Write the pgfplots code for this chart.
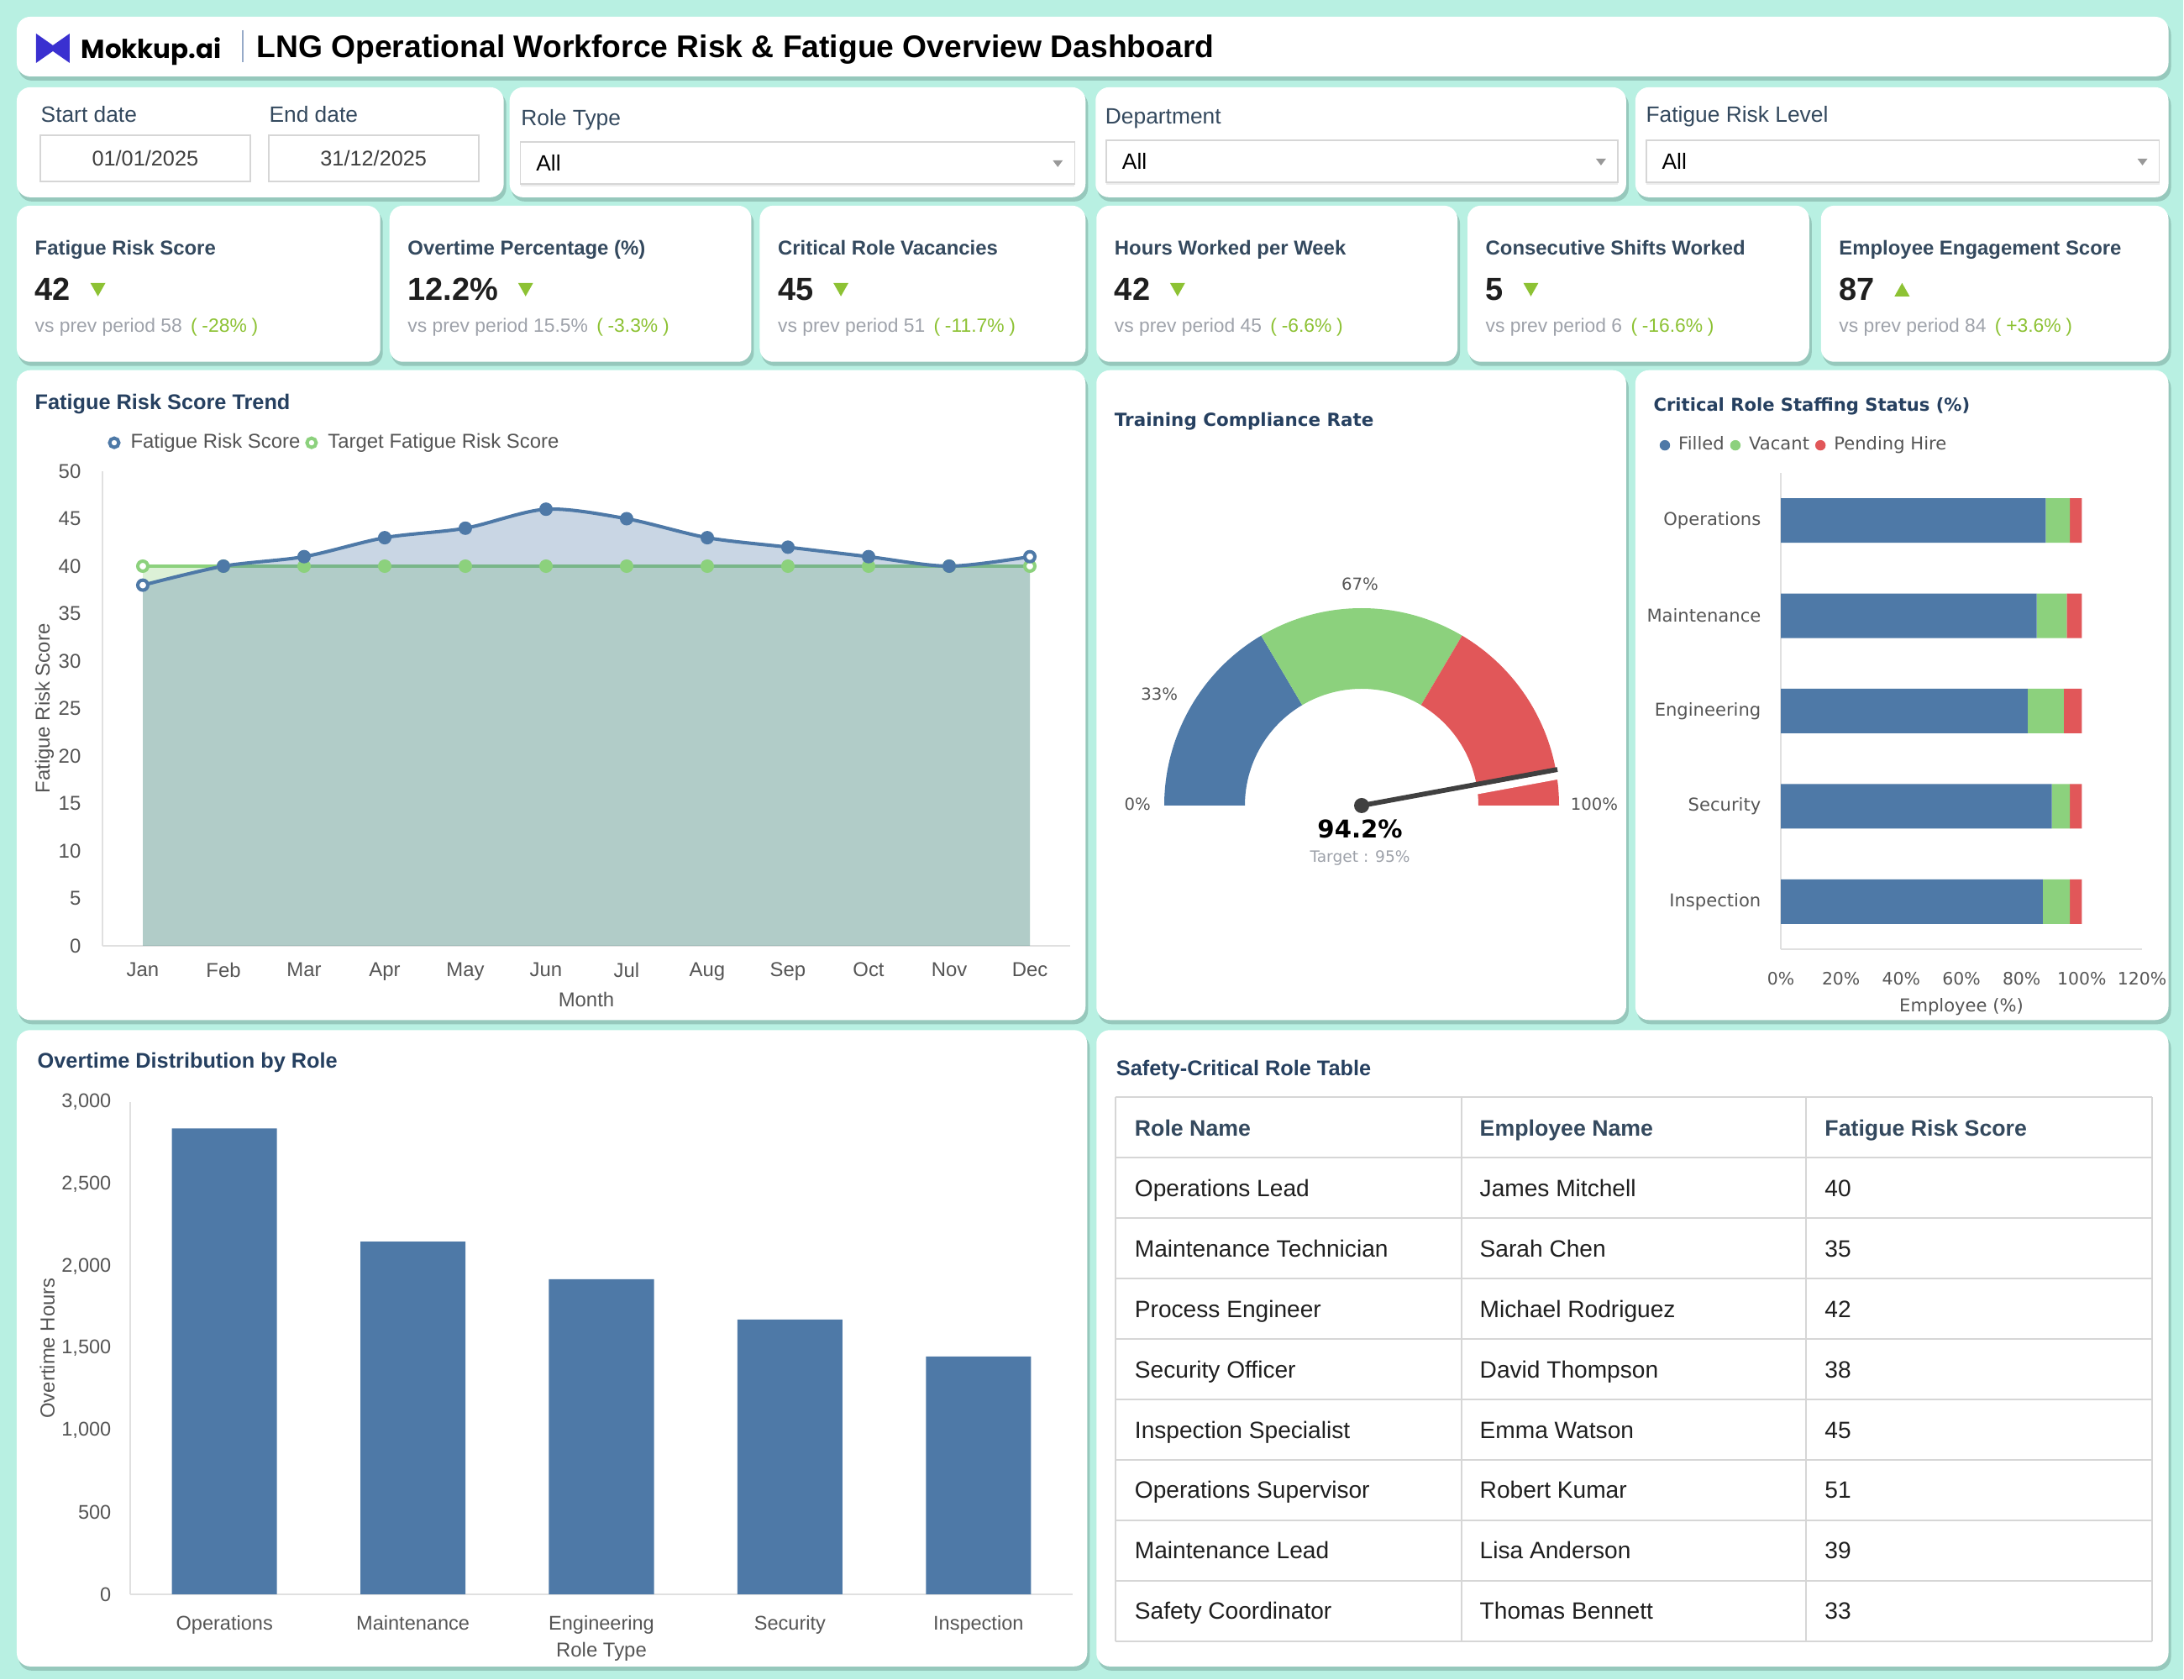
\documentclass[border=0pt]{standalone}
\usepackage{pgfplots}
\pgfplotsset{compat=1.18}
\usepackage{fontspec}
\setmainfont{Liberation Sans}
\newfontfamily\dejavu{DejaVu Sans}
\newfontfamily\poppins{Poppins}
\usetikzlibrary{calc}

\definecolor{bgmint}{RGB}{184,240,226}
\definecolor{shadowc}{RGB}{150,200,188}
\definecolor{tblue}{RGB}{78,121,167}
\definecolor{tgreen}{RGB}{140,209,125}
\definecolor{tred}{RGB}{225,87,89}
\definecolor{titleblue}{RGB}{38,64,96}
\definecolor{kpititle}{RGB}{52,73,94}
\definecolor{kpigreen}{RGB}{141,194,52}
\definecolor{subgray}{RGB}{158,162,170}
\definecolor{tickgray}{RGB}{85,85,85}
\definecolor{axgray}{RGB}{224,224,224}
\definecolor{needlec}{RGB}{64,64,64}
\definecolor{logoc}{RGB}{58,48,208}
\definecolor{bordergray}{RGB}{214,214,214}
\definecolor{divc}{RGB}{150,170,200}

\newcommand{\fs}[1]{\fontsize{#1}{#1}\selectfont}

\newcommand{\card}[4]{%
  \fill[shadowc,rounded corners=0.16cm] (#1+2,#2+5) rectangle (#3+3,#4+5);
  \fill[white,rounded corners=0.16cm] (#1,#2) rectangle (#3,#4);}

\newcommand{\kpi}[7]{%
  \card{#1}{245}{#2}{431}
  \node[lbl,font=\bfseries\fs{6.8},text=kpititle] at (#1+21,304) {#3};
  \node[lbl,font=\bfseries\fs{10.8},text=black!88] (kv) at (#1+21,358) {#4};
  \fill[kpigreen] (kv.base east) ++(23,{-13-8*#5}) -- ++(18,0) -- ++(-9,{16*#5}) -- cycle;
  \node[lbl,font=\fs{6.5},text=subgray] at (#1+21,396) {vs prev period #6\hspace{0.45em}\textcolor{kpigreen}{(\hspace{0.25em}#7\hspace{0.25em})}};}

\newcommand{\dropdown}[4]{%
  \fill[black!7] (#1,#2+2) rectangle (#3,#4+3);
  \fill[white] (#1,#2) rectangle (#3,#4);
  \draw[bordergray,line width=0.015cm] (#1,#2) rectangle (#3,#4);
  \node[lbl,font=\fs{7.5}] at (#1+18,{(#2+#4)/2+10}) {All};
  \fill[black!40] (#3-26,{(#2+#4)/2-3}) -- ++(12,0) -- ++(-6,8) -- cycle;}

\tikzset{lbl/.style={anchor=base west,inner sep=0pt},
  ttl/.style={anchor=base west,inner sep=0pt,font=\bfseries\fs{7.2},text=titleblue}}

\pgfmathsetmacro{\aOne}{180-33*1.8}
\pgfmathsetmacro{\aTwo}{180-67*1.8}
\pgfmathsetmacro{\aNeedle}{180-94.2*1.8}
\pgfmathsetmacro{\aNeedleN}{\aNeedle-90}

\begin{document}
\begin{tikzpicture}
\useasboundingbox (0,0) rectangle (26cm,20cm);
\begin{scope}[x=0.01cm,y=-0.01cm,yshift=20cm]
\fill[bgmint] (0,0) rectangle (2600,2000);
% ---------- header
\card{20}{20}{2583}{91}
\fill[logoc] (43,40) -- (63,54) -- (83,40) -- (83,75) -- (63,61) -- (43,75) -- cycle;
\node[lbl,font=\poppins\bfseries\fs{8.8}] at (96,70) {Mokkup.ai};
\draw[divc,line width=0.015cm] (289,36) -- (289,74);
\node[lbl,font=\bfseries\fs{10.6}] at (305,69) {LNG Operational Workforce Risk \& Fatigue Overview Dashboard};
% ---------- filters
\card{20}{104}{600}{235}
\node[lbl,font=\fs{7.5},text=kpititle] at (48,146) {Start date};
\node[lbl,font=\fs{7.5},text=kpititle] at (320,146) {End date};
\draw[bordergray,line width=0.02cm] (48,161) rectangle (298,216);
\draw[bordergray,line width=0.02cm] (320,161) rectangle (570,216);
\node[font=\fs{7.2},text=black!75] at (173,189) {01/01/2025};
\node[font=\fs{7.2},text=black!75] at (445,189) {31/12/2025};
\card{607}{104}{1293}{235}
\node[lbl,font=\fs{7.5},text=kpititle] at (620,150) {Role Type};
\dropdown{620}{169}{1280}{219}
\card{1305}{104}{1937}{235}
\node[lbl,font=\fs{7.5},text=kpititle] at (1316,148) {Department};
\dropdown{1318}{167}{1927}{217}
\card{1948}{104}{2583}{235}
\node[lbl,font=\fs{7.5},text=kpititle] at (1960,146) {Fatigue Risk Level};
\dropdown{1961}{167}{2572}{217}
% ---------- KPIs
\kpi{20}{453}{Fatigue Risk Score}{42}{1}{58}{-28\%}
\kpi{464}{895}{Overtime Percentage (\%)}{12.2\%}{1}{15.5\%}{-3.3\%}
\kpi{905}{1293}{Critical Role Vacancies}{45}{1}{51}{-11.7\%}
\kpi{1306}{1736}{Hours Worked per Week}{42}{1}{45}{-6.6\%}
\kpi{1748}{2155}{Consecutive Shifts Worked}{5}{1}{6}{-16.6\%}
\kpi{2169}{2583}{Employee Engagement Score}{87}{-1}{84}{+3.6\%}
% ---------- chart cards
\card{20}{441}{1293}{1215}
\node[ttl] at (41,488) {Fatigue Risk Score Trend};
\card{1306}{441}{1937}{1215}
\node[lbl,font=\dejavu\bfseries\fs{6.1},text=titleblue] at (1327,508) {Training Compliance Rate};
\card{1948}{441}{2583}{1215}
\node[lbl,font=\dejavu\bfseries\fs{6.0},text=titleblue] at (1969,490) {Critical Role Staffing Status (\%)};
\card{20}{1227}{1295}{1985}
\node[ttl] at (44,1272) {Overtime Distribution by Role};
\card{1306}{1227}{2583}{1985}
\node[ttl] at (1329,1281) {Safety-Critical Role Table};
% ---------- gauge labels
\node[font=\dejavu\fs{5.6},text=tickgray] at (1355,958) {0\%};
\node[font=\dejavu\fs{5.6},text=tickgray] at (1381,827) {33\%};
\node[font=\dejavu\fs{5.6},text=tickgray] at (1620,696) {67\%};
\node[font=\dejavu\fs{5.6},text=tickgray] at (1899,958) {100\%};
\node[font=\dejavu\bfseries\fs{8.3}] at (1620,987) {94.2\%};
\node[font=\dejavu\fs{5.3},text=subgray] at (1620,1022) {Target : 95\%};
% ---------- table
\foreach \yy in {1307,1379,1451,1523,1595,1667,1739,1811,1883,1955}
  \draw[bordergray,line width=0.02cm] (1329,\yy) -- (2563,\yy);
\foreach \xx in {1329,1741,2151,2563}
  \draw[bordergray,line width=0.02cm] (\xx,1307) -- (\xx,1955);
\node[lbl,font=\bfseries\fs{7.6},text=kpititle] at (1351,1353) {Role Name};
\node[lbl,font=\bfseries\fs{7.6},text=kpititle] at (1762,1353) {Employee Name};
\node[lbl,font=\bfseries\fs{7.6},text=kpititle] at (2173,1353) {Fatigue Risk Score};
\foreach \r/\e/\s [count=\i] in {Operations Lead/James Mitchell/40,Maintenance Technician/Sarah Chen/35,Process Engineer/Michael Rodriguez/42,Security Officer/David Thompson/38,Inspection Specialist/Emma Watson/45,Operations Supervisor/Robert Kumar/51,Maintenance Lead/Lisa Anderson/39,Safety Coordinator/Thomas Bennett/33}{
  \node[lbl,font=\fs{8},text=black!88] at (1351,{1353+72*\i}) {\r};
  \node[lbl,font=\fs{8},text=black!88] at (1762,{1353+72*\i}) {\e};
  \node[lbl,font=\fs{8},text=black!88] at (2173,{1353+72*\i}) {\s};
}
\end{scope}

% ================= Trend chart
\begin{axis}[
  at={(1.22cm,8.74cm)}, anchor=south west,
  scale only axis, width=11.52cm, height=5.65cm,
  xmin=-0.5, xmax=11.5, ymin=0, ymax=50,
  xtick={0,...,11}, xticklabels={Jan,Feb,Mar,Apr,May,Jun,Jul,Aug,Sep,Oct,Nov,Dec},
  ytick={0,5,...,50},
  axis x line*=bottom, axis y line*=left,
  axis line style={draw=axgray, line width=0.6pt, -},
  major tick length=0pt,
  /pgf/number format/assume math mode=true,
  tick label style={font=\fs{6.8}, text=tickgray, inner sep=0pt},
  yticklabel style={anchor=east, xshift=-0.25cm},
  xticklabel style={anchor=north, yshift=-0.19cm},
  every axis y label/.style={at={(axis description cs:-0.06,0.5)}, rotate=90, anchor=center, font=\fs{6.8}, text=tickgray},
  every axis x label/.style={at={(axis description cs:0.5,-0.113)}, anchor=center, font=\fs{6.8}, text=tickgray},
  ylabel={Fatigue Risk Score}, xlabel={Month},
  legend style={at={(axis description cs:0.005,1.06)}, anchor=west, draw=none, fill=none, font=\fs{6.8}, text=tickgray, legend columns=2, inner sep=0pt, nodes={inner sep=0pt}, /tikz/every odd column/.append style={column sep=0.12cm}, /tikz/every even column/.append style={column sep=0.06cm}},
  legend cell align=left,
  reverse legend,
  clip=false,
]
\addplot[forget plot, draw=none, fill=tgreen, fill opacity=0.3] coordinates {(0,40)(1,40)(2,40)(3,40)(4,40)(5,40)(6,40)(7,40)(8,40)(9,40)(10,40)(11,40)} \closedcycle;
\addplot[color=tgreen, line width=1.15pt, mark=*, mark size=1.7pt, mark indices={2,...,11}, mark options={solid, fill=tgreen},
  legend image code/.code={\draw[tgreen, line width=1.15pt, fill=white] (0.065cm,0cm) circle (0.055cm);}]
  coordinates {(0,40)(1,40)(2,40)(3,40)(4,40)(5,40)(6,40)(7,40)(8,40)(9,40)(10,40)(11,40)};
\addlegendentry{Target Fatigue Risk Score}
\addplot[forget plot, only marks, mark=*, mark size=1.7pt, mark options={draw=tgreen, fill=white, line width=1.15pt}] coordinates {(0,40)(11,40)};
\addplot[forget plot, draw=none, fill=tblue, fill opacity=0.3, smooth] coordinates {(0,38)(1,40)(2,41)(3,43)(4,44)(5,46)(6,45)(7,43)(8,42)(9,41)(10,40)(11,41)} \closedcycle;
\addplot[color=tblue, line width=1.15pt, smooth, mark=*, mark size=1.7pt, mark indices={2,...,11}, mark options={solid, fill=tblue},
  legend image code/.code={\draw[tblue, line width=1.15pt, fill=white] (0.065cm,0cm) circle (0.055cm);}]
  coordinates {(0,38)(1,40)(2,41)(3,43)(4,44)(5,46)(6,45)(7,43)(8,42)(9,41)(10,40)(11,41)};
\addlegendentry{Fatigue Risk Score}
\addplot[forget plot, only marks, mark=*, mark size=1.7pt, mark options={draw=tblue, fill=white, line width=1.15pt}] coordinates {(0,38)(11,41)};
\end{axis}

% ================= Gauge
\begin{axis}[at={(13.86cm,10.41cm)}, anchor=south west, scale only axis, width=4.70cm, height=2.35cm,
  xmin=-1, xmax=1, ymin=0, ymax=1, hide axis, clip=false]
\addplot[draw=none, forget plot] coordinates {(0,0)};
\fill[tblue] (axis cs:0,0) ++(180:2.35cm) arc[start angle=180, end angle=\aOne, radius=2.35cm] -- ++(\aOne+180:0.96cm) arc[start angle=\aOne, end angle=180, radius=1.39cm] -- cycle;
\fill[tgreen] (axis cs:0,0) ++(\aOne:2.35cm) arc[start angle=\aOne, end angle=\aTwo, radius=2.35cm] -- ++(\aTwo+180:0.96cm) arc[start angle=\aTwo, end angle=\aOne, radius=1.39cm] -- cycle;
\fill[tred] (axis cs:0,0) ++(\aTwo:2.35cm) arc[start angle=\aTwo, end angle=0, radius=2.35cm] -- ++(180:0.96cm) arc[start angle=0, end angle=\aTwo, radius=1.39cm] -- cycle;
\draw[white, line width=0.09cm] (axis cs:0,0) ++(\aNeedleN:0.072cm) ++(\aNeedle:1.2cm) -- ++(\aNeedle:1.35cm);
\draw[needlec, line width=0.058cm] (axis cs:0,0) -- ++(\aNeedle:2.37cm);
\fill[needlec] (axis cs:0,0) circle (0.09cm);
\end{axis}

% ================= Staffing
\begin{axis}[
  at={(21.20cm,8.70cm)}, anchor=south west, scale only axis, width=4.30cm, height=5.67cm,
  xbar stacked, bar width=0.53cm,
  xmin=0, xmax=120, ymin=-0.5, ymax=4.5,
  ytick={0,...,4}, yticklabels={Inspection,Security,Engineering,Maintenance,Operations},
  xtick={0,20,...,120}, xticklabels={0\%,20\%,40\%,60\%,80\%,100\%,120\%},
  axis x line*=bottom, axis y line*=left,
  axis line style={draw=axgray, line width=0.6pt, -},
  major tick length=0pt,
  tick label style={font=\dejavu\fs{5.8}, text=tickgray, inner sep=0pt},
  yticklabel style={anchor=east, xshift=-0.23cm, font=\dejavu\fs{6}},
  xticklabel style={anchor=north, yshift=-0.27cm},
  xlabel={Employee (\%)},
  every axis x label/.style={at={(axis description cs:0.5,-0.122)}, anchor=center, font=\dejavu\fs{6}, text=tickgray},
  legend style={at={(axis description cs:-0.337,1.058)}, anchor=west, draw=none, fill=none, font=\dejavu\fs{6}, text=tickgray, legend columns=3, inner sep=0pt, nodes={inner sep=0pt}, /tikz/every odd column/.append style={column sep=0.1cm}, /tikz/every even column/.append style={column sep=0.07cm}},
]
\addplot[fill=tblue, draw=none, legend image code/.code={\fill[tblue] (0.065cm,0cm) circle (0.062cm);}] coordinates {(88,4) (85,3) (82,2) (90,1) (87,0)};
\addlegendentry{Filled}
\addplot[fill=tgreen, draw=none, legend image code/.code={\fill[tgreen] (0.065cm,0cm) circle (0.062cm);}] coordinates {(8,4) (10,3) (12,2) (6,1) (9,0)};
\addlegendentry{Vacant}
\addplot[fill=tred, draw=none, legend image code/.code={\fill[tred] (0.065cm,0cm) circle (0.062cm);}] coordinates {(4,4) (5,3) (6,2) (4,1) (4,0)};
\addlegendentry{Pending Hire}
\end{axis}

% ================= Overtime bars
\begin{axis}[
  at={(1.55cm,1.02cm)}, anchor=south west, scale only axis, width=11.22cm, height=5.86cm,
  ybar, bar width=1.25cm,
  xmin=-0.5, xmax=4.5, ymin=0, ymax=3000,
  xtick={0,...,4}, xticklabels={Operations,Maintenance,Engineering,Security,Inspection},
  ytick={0,500,...,3000}, scaled y ticks=false,
  /pgf/number format/1000 sep={,},
  /pgf/number format/assume math mode=true,
  axis x line*=bottom, axis y line*=left,
  axis line style={draw=axgray, line width=0.6pt, -},
  major tick length=0pt,
  tick label style={font=\fs{6.7}, text=tickgray, inner sep=0pt},
  yticklabel style={anchor=east, xshift=-0.22cm},
  xticklabel style={anchor=north, yshift=-0.25cm},
  every axis y label/.style={at={(axis description cs:-0.088,0.5)}, rotate=90, anchor=center, font=\fs{6.8}, text=tickgray},
  every axis x label/.style={at={(axis description cs:0.5,-0.116)}, anchor=center, font=\fs{6.8}, text=tickgray},
  ylabel={Overtime Hours}, xlabel={Role Type},
]
\addplot[fill=tblue, draw=none] coordinates {(0,2840) (1,2150) (2,1920) (3,1675) (4,1450)};
\end{axis}
\end{tikzpicture}
\end{document}
